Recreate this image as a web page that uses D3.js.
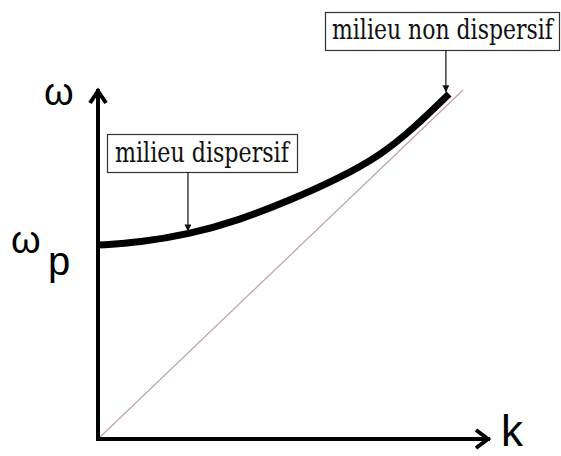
<!DOCTYPE html>
<html>
<head>
<meta charset="UTF-8">
<title>Relation de dispersion</title>
<style>
    body { margin: 0; padding: 0; background: #fff; }
    svg { display: block; }
    .axis-label { font-family: 'Liberation Sans', Arial, sans-serif; fill: #000; }
</style>
</head>
<body>
<svg></svg>
<script src="https://d3js.org/d3.v7.min.js"></script>
<script>

// data (k, omega in arbitrary units)
const curveK = [0, 1.2, 2.57, 4.06, 5.49, 6.91, 8.06, 9.0, 10.03];
const curveW = [5.54, 5.62, 5.84, 6.26, 6.82, 7.46, 8.1, 8.86, 9.86];
const lineK = [0, 10.43];
const lineW = [0, 9.97];
const axisMax = { k: 11.2, w: 10 };
const notes = ["milieu dispersif", "milieu non dispersif"];
const noteTargetK = [2.57, 9.94];
const noteTargetW = [5.93, 9.91];

// dimensions
let w = 561, h = 456;
let x0 = 98, y0 = 439;

let svg = d3.select("svg")
    .attr("width", w)
    .attr("height", h);

let x = d3.scaleLinear().domain([0, axisMax.k]).range([x0, 490]);
let y = d3.scaleLinear().domain([0, axisMax.w]).range([y0, 89]);

// arrow marker for the annotations
svg.append("defs").append("marker")
    .attr("id", "tip")
    .attr("viewBox", "0 0 10 10")
    .attr("refX", 10).attr("refY", 5)
    .attr("markerWidth", 7).attr("markerHeight", 7)
    .attr("markerUnits", "userSpaceOnUse")
    .attr("orient", "auto")
    .append("path")
    .attr("d", "M0,0 L10,5 L0,10 z")
    .attr("fill", "#111");

// diagonal (non dispersive asymptote)
svg.append("line")
    .attr("x1", x(lineK[0])).attr("y1", y(lineW[0]))
    .attr("x2", x(lineK[1])).attr("y2", y(lineW[1]))
    .attr("stroke", "#c4a4a4")
    .attr("stroke-width", 1.3);

// dispersion curve
let pts = curveK.map((k, i) => [k, curveW[i]]);
svg.append("path")
    .datum(pts)
    .attr("d", d3.line().x(d => x(d[0])).y(d => y(d[1])).curve(d3.curveBasis))
    .attr("fill", "none")
    .attr("stroke", "#000")
    .attr("stroke-width", 7);

// axes with open arrowheads
let axes = svg.append("g")
    .attr("stroke", "#000")
    .attr("stroke-width", 4)
    .attr("fill", "none")
    .attr("stroke-linejoin", "miter");

axes.append("path")
    .attr("d", `M${x(0)},${y(0) + 2} L${x(0)},${y(axisMax.w)}`);
axes.append("path")
    .attr("d", `M${x(0) - 8},${y(axisMax.w) + 14} L${x(0)},${y(axisMax.w) + 2} L${x(0) + 8},${y(axisMax.w) + 14}`);
axes.append("path")
    .attr("d", `M${x(0) - 2},${y(0)} L${x(axisMax.k)},${y(0)}`);
axes.append("path")
    .attr("d", `M${x(axisMax.k) - 14},${y(0) - 9} L${x(axisMax.k) - 2},${y(0)} L${x(axisMax.k) - 14},${y(0) + 9}`);

// axis labels
svg.append("text").attr("class", "axis-label")
    .attr("x", 44).attr("y", 105)
    .style("font-size", "38px")
    .text("ω");
svg.append("text").attr("class", "axis-label")
    .attr("x", 11).attr("y", 253)
    .style("font-size", "38px")
    .text("ω");
svg.append("text").attr("class", "axis-label")
    .attr("x", 48).attr("y", 275)
    .style("font-size", "40px")
    .text("p");
svg.append("text").attr("class", "axis-label")
    .attr("x", 501).attr("y", 446)
    .style("font-size", "44px")
    .text("k");

// annotation boxes
let boxes = [
    { x: 107, y: 134, bw: 190, bh: 38, tx: 115, tw: 174, base: 162 },
    { x: 325, y: 12, bw: 234, bh: 38, tx: 332, tw: 221, base: 39 }
];

notes.forEach((t, i) => {
    let b = boxes[i];
    let g = svg.append("g");
    g.append("rect")
        .attr("x", b.x + 0.5).attr("y", b.y + 0.5)
        .attr("width", b.bw).attr("height", b.bh)
        .attr("fill", "#fff")
        .attr("stroke", "#333")
        .attr("stroke-width", 1.2);
    // squeeze the serif text horizontally to the box width
    let label = g.append("text")
        .style("font-family", "'DejaVu Serif', serif")
        .style("font-size", "27px")
        .attr("fill", "#111")
        .text(t);
    let natural = label.node().getComputedTextLength();
    label.attr("transform", `translate(${b.tx},${b.base}) scale(${b.tw / natural},1)`);
    let tx = x(noteTargetK[i]);
    g.append("line")
        .attr("x1", tx).attr("y1", b.y + b.bh)
        .attr("x2", tx).attr("y2", y(noteTargetW[i]))
        .attr("stroke", "#111")
        .attr("stroke-width", 1.2)
        .attr("marker-end", "url(#tip)");
});

</script>
</body>
</html>
